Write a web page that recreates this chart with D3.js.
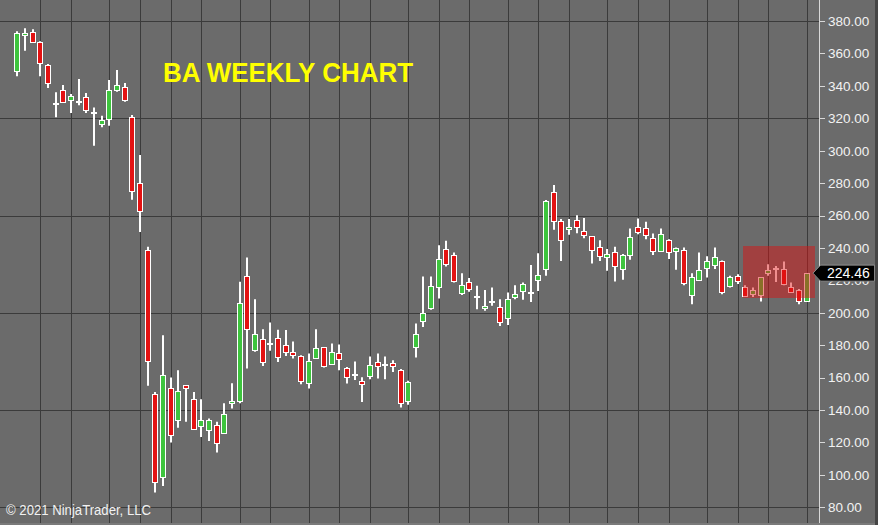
<!DOCTYPE html>
<html><head><meta charset="utf-8">
<script src="https://cdn.jsdelivr.net/npm/d3@7"></script>
<style>html,body{margin:0;padding:0;background:#6b6b6b;overflow:hidden}</style>
</head><body><svg id="c" width="878" height="525"></svg>
<script>
// Weekly candles (index 0 = week of 15 Nov 2019 ... index 103 = week of 5 Nov 2021)
const opens  = [349.3,372.0,373.0,367.2,353.0,328.8,337.4,331.0,330.2,332.9,323.2,316.6,319.5,337.6,339.1,320.9,279.8,238.6,149.6,98.9,153.9,133.9,155.5,147.1,129.7,127.5,130.8,126.1,145.0,145.3,222.9,177.1,184.1,180.8,184.5,180.2,175.5,173.5,156.4,172.0,178.6,168.5,174.9,166.2,161.7,158.2,160.7,169.9,167.9,169.3,165.0,145.6,178.9,194.4,202.8,216.0,239.3,235.6,212.5,218.7,210.0,203.5,206.7,203.6,196.5,209.5,213.2,212.5,220.1,226.9,274.3,256.7,251.4,257.0,250.7,247.1,240.3,234.3,237.2,226.8,235.6,253.0,252.0,246.0,238.6,245.0,237.6,238.6,211.0,220.3,227.3,229.4,232.0,216.2,222.4,216.2,211.5,210.4,224.3,226.9,226.9,216.2,214.0,207.4];
const highs  = [373.6,375.5,374.9,367.5,353.5,336.0,340.5,335.0,344.2,335.6,326.7,321.5,343.6,349.8,341.7,322.0,297.3,240.7,151.2,186.2,160.1,164.6,155.5,151.2,146.7,134.8,132.7,144.2,156.5,219.1,234.1,208.4,189.9,194.0,189.5,189.3,182.3,173.8,174.9,189.9,178.9,181.0,180.4,166.5,169.9,160.2,173.0,174.9,173.0,170.7,165.3,158.0,193.4,222.4,222.4,241.7,244.4,237.2,224.4,221.4,216.6,214.0,215.6,208.4,212.5,217.0,218.7,229.4,236.8,269.5,278.8,257.8,257.8,260.2,258.4,247.4,244.8,239.3,240.7,236.2,252.0,258.2,256.1,248.9,252.0,245.3,240.3,240.3,224.4,237.2,234.8,240.3,232.3,222.8,223.8,217.0,215.6,221.8,230.0,228.9,231.7,218.7,214.6,224.6];
const lows   = [345.9,361.7,366.4,345.9,338.6,320.6,329.8,323.2,328.1,323.2,303.0,314.4,315.4,336.4,330.2,269.7,249.9,155.0,89.1,93.2,119.9,129.0,132.7,128.1,123.4,120.9,113.8,126.1,141.0,144.2,165.6,175.9,167.2,176.5,169.7,173.4,171.8,155.9,153.3,172.0,166.2,168.1,164.6,156.4,158.6,145.0,159.0,159.4,159.0,163.5,141.5,143.2,172.4,191.3,201.8,208.8,228.6,218.7,211.0,212.9,202.2,201.2,204.3,191.9,192.5,208.4,208.0,206.7,213.5,222.8,251.2,232.0,248.1,249.1,246.0,230.4,232.0,225.9,219.3,220.3,232.7,248.5,245.4,235.6,237.6,233.1,226.5,217.0,205.3,219.7,221.8,227.0,211.5,215.6,217.7,209.8,209.8,206.9,222.8,219.0,217.0,212.5,205.3,206.7];
const closes = [372.6,372.3,366.9,354.5,342.2,328.8,330.2,333.5,330.2,324.6,323.2,318.9,337.4,340.7,330.8,275.2,262.5,170.3,95.3,161.9,124.9,151.8,153.9,128.9,133.6,133.9,119.9,137.8,145.5,205.8,189.9,187.0,169.7,180.8,173.0,176.1,173.8,158.2,170.0,178.2,166.8,175.9,171.4,160.9,161.7,156.5,167.7,167.5,167.9,167.2,144.6,157.6,186.7,199.6,216.6,233.1,230.0,219.7,217.4,214.1,210.0,204.3,206.7,194.4,208.4,211.5,217.7,212.5,223.4,269.1,256.4,245.0,252.9,252.4,248.3,238.6,234.8,236.0,228.3,235.6,246.8,249.9,247.9,238.2,248.9,237.6,239.7,218.0,221.8,226.5,231.7,234.5,213.1,221.8,219.1,210.9,214.0,221.8,226.3,226.9,217.7,213.1,207.4,224.46];
// Candle indices where a new month starts (vertical grid lines)
const monthStarts = [3,7,12,16,20,24,29,33,38,42,46,51,55,59,64,68,72,77,81,85,90,94,98,103];
// Price axis
const priceTicks = [380,360,340,320,300,280,260,240,220,200,180,160,140,120,100,80];
const gridPrices = [380,320,260,200,140,80];
const lastPrice = 224.46;
// Highlighted zone (candle index range and price range)
const zoneCandles = [95,103];
const zonePrices = [209.5,241.5];
const title = "BA WEEKLY CHART";
const copyright = "© 2021 NinjaTrader, LLC";

const W=878,H=525, plotRight=819.5, plotBottom=523;
const svg=d3.select("#c");
const x=d3.scaleLinear().domain([0,103]).range([17.3,806.7]);
const y=d3.scaleLinear().domain([80,380]).range([507.3,21]);
const step=x(1)-x(0);
const px=v=>Math.round(x(v));
const py=v=>Math.round(y(v));

svg.append("rect").attr("width",W).attr("height",H).attr("fill","#6b6b6b");

// grid
const g=svg.append("g");
g.selectAll("line.h").data(gridPrices).join("line")
 .attr("x1",0).attr("x2",plotRight).attr("y1",d=>py(d)+0.5).attr("y2",d=>py(d)+0.5)
 .attr("stroke","#3b3b3b").attr("stroke-width",1);
g.selectAll("line.v").data(monthStarts).join("line")
 .attr("x1",d=>px(d)+0.5).attr("x2",d=>px(d)+0.5).attr("y1",0).attr("y2",plotBottom)
 .attr("stroke","#3b3b3b").attr("stroke-width",1);

// candles
const data=opens.map((o,i)=>({i,o,h:highs[i],l:lows[i],c:closes[i]}));
const cg=svg.append("g");
cg.selectAll("line.w").data(data).join("line")
 .attr("x1",d=>px(d.i)).attr("x2",d=>px(d.i))
 .attr("y1",d=>y(d.h)).attr("y2",d=>y(d.l))
 .attr("stroke","#ffffff").attr("stroke-width",2);
const bodies=data.filter(d=>Math.abs(d.o-d.c)>=0.3);
const dojis=data.filter(d=>Math.abs(d.o-d.c)<0.3);
cg.selectAll("rect.b").data(bodies).join("rect")
 .attr("x",d=>px(d.i)-2.5)
 .attr("y",d=>Math.round(y(Math.max(d.o,d.c)))+0.5)
 .attr("width",5)
 .attr("height",d=>Math.max(2,Math.round(Math.abs(y(d.o)-y(d.c)))))
 .attr("fill",d=>d.c>=d.o?"#3ec43e":"#e31212")
 .attr("stroke","#ffffff").attr("stroke-width",1);
cg.selectAll("line.d").data(dojis).join("line")
 .attr("x1",d=>px(d.i)-3).attr("x2",d=>px(d.i)+3)
 .attr("y1",d=>Math.round(y(d.o))).attr("y2",d=>Math.round(y(d.o)))
 .attr("stroke","#ffffff").attr("stroke-width",2);

// highlighted zone
svg.append("rect")
 .attr("x",Math.round(x(zoneCandles[0]-0.25)))
 .attr("y",Math.round(y(zonePrices[1])))
 .attr("width",Math.round(x(zoneCandles[1]+1.1)-x(zoneCandles[0]-0.25)))
 .attr("height",Math.round(y(zonePrices[0])-y(zonePrices[1])))
 .attr("fill","#e01010").attr("fill-opacity",0.47);

// title
svg.append("text").attr("x",163).attr("y",82).text(title)
 .attr("font-family","'Liberation Sans',Arial,sans-serif").attr("font-weight","bold")
 .attr("font-size",28).attr("fill","#ffff00")
 .attr("textLength",250).attr("lengthAdjust","spacingAndGlyphs");

// copyright
svg.append("text").attr("x",6).attr("y",515).text(copyright)
 .attr("font-family","'Liberation Sans',Arial,sans-serif").attr("font-size",14)
 .attr("fill","#f2f2f2").attr("textLength",145).attr("lengthAdjust","spacingAndGlyphs");

// axis
const ax=svg.append("g");
ax.append("line").attr("x1",plotRight).attr("x2",plotRight).attr("y1",0).attr("y2",plotBottom)
 .attr("stroke","#d8d8d8").attr("stroke-width",1);
ax.selectAll("line.t").data(priceTicks).join("line")
 .attr("x1",plotRight).attr("x2",825).attr("y1",d=>py(d)+0.5).attr("y2",d=>py(d)+0.5)
 .attr("stroke","#d8d8d8").attr("stroke-width",1);
ax.selectAll("text").data(priceTicks).join("text")
 .attr("x",828).attr("y",d=>y(d)).attr("dy","0.36em")
 .attr("font-family","'Liberation Sans',Arial,sans-serif").attr("font-size",13.5)
 .attr("fill","#f2f2f2").text(d=>d3.format(".2f")(d));
svg.append("rect").attr("x",875).attr("y",0).attr("width",3).attr("height",H).attr("fill","#454545");
svg.append("rect").attr("x",0).attr("y",plotBottom).attr("width",875).attr("height",H-plotBottom).attr("fill","#7a7a7a");

// last price marker
const ly=y(lastPrice);
svg.append("path")
 .attr("d",`M813,${ly} L820.5,${ly-8} L874.5,${ly-8} L874.5,${ly+8} L820.5,${ly+8} Z`)
 .attr("fill","#000000").attr("stroke","#9a9a9a").attr("stroke-width",0.8);
svg.append("text").attr("x",827).attr("y",ly).attr("dy","0.36em")
 .attr("font-family","'Liberation Sans',Arial,sans-serif").attr("font-size",14)
 .attr("fill","#ffffff").text(d3.format(".2f")(lastPrice));
</script></body></html>
